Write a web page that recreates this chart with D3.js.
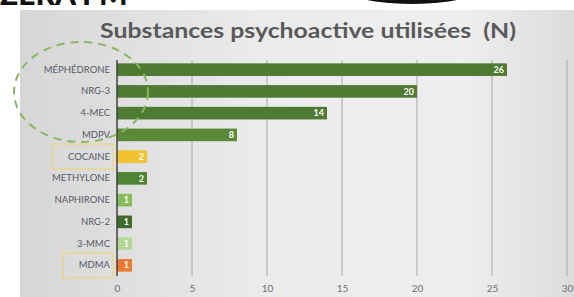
<!DOCTYPE html>
<meta charset="utf-8">
<html>
<head><title>Substances psychoactive</title>
<script src="https://cdn.jsdelivr.net/npm/d3@7"></script>
<style>
    body { margin: 0; background: #fff; }
    text { font-family: Lato, "Open Sans", sans-serif; }
</style>
</head>
<body>
<script>
// data
var substances = ["MÉPHÉDRONE", "NRG-3", "4-MEC", "MDPV", "COCAINE", "METHYLONE", "NAPHIRONE", "NRG-2", "3-MMC", "MDMA"];
var counts = [26, 20, 14, 8, 2, 2, 1, 1, 1, 1];
var barColors = ["#4f7a31", "#4f7a31", "#4f7a31", "#5a8a38", "#f2c12e", "#4e8532", "#86bd5a", "#3e6a2a", "#b3d795", "#ec7a30"];
var xTicks = [0, 5, 10, 15, 20, 25, 30];

var W = 574, H = 297;
var svg = d3.select("body").append("svg").attr("width", W).attr("height", H);

// grey slide panel with light gradient
var defs = svg.append("defs");
var grad = defs.append("linearGradient").attr("id", "bg").attr("x1", 0).attr("x2", 1);
grad.append("stop").attr("offset", "0").attr("stop-color", "#d6d6d6");
grad.append("stop").attr("offset", "0.45").attr("stop-color", "#ececec");
grad.append("stop").attr("offset", "0.8").attr("stop-color", "#eeeeee");
grad.append("stop").attr("offset", "1").attr("stop-color", "#dcdcdc");
svg.append("rect").attr("x", 20).attr("y", 10).attr("width", W - 20).attr("height", H - 10).attr("fill", "url(#bg)");

// bits of the slide above the chart (cut off by the photo)
svg.append("text").attr("x", 0).attr("y", 5).attr("font-size", 30).attr("font-weight", 900)
    .attr("fill", "#111").text("ZERA FM");
svg.append("ellipse").attr("cx", 412).attr("cy", -30).attr("rx", 96).attr("ry", 34).attr("fill", "#111");

svg.append("text").attr("x", 308).attr("y", 38).attr("text-anchor", "middle")
    .attr("font-size", 21).attr("font-weight", 700).attr("fill", "#595959")
    .attr("textLength", 416).attr("lengthAdjust", "spacingAndGlyphs")
    .text("Substances psychoactive utilisées\u00a0\u00a0(N)");

var x = d3.scaleLinear().domain([0, 30]).range([117, 567]);
var y = d3.scaleBand().domain(substances).range([59, 276]).paddingInner(0.42).paddingOuter(0.2);

// gridlines
svg.append("g").selectAll("line").data(xTicks.slice(1)).enter().append("line")
    .attr("x1", function(d) { return x(d); }).attr("x2", function(d) { return x(d); })
    .attr("y1", 60).attr("y2", 276)
    .attr("stroke", "#a8a8a8").attr("stroke-width", 1);

var xAxis = svg.append("g").attr("transform", "translate(0,281)")
    .call(d3.axisBottom(x).tickValues(xTicks).tickSize(0).tickPadding(4));
xAxis.select(".domain").remove();
xAxis.selectAll("text").attr("font-size", 10).attr("fill", "#6e6e6e")
    .style("font-family", "Lato, sans-serif");

svg.append("g").selectAll("rect").data(counts).enter().append("rect")
    .attr("x", x(0))
    .attr("y", function(d, i) { return y(substances[i]); })
    .attr("width", function(d) { return x(d) - x(0); })
    .attr("height", y.bandwidth())
    .attr("fill", function(d, i) { return barColors[i]; });

svg.append("g").selectAll("text").data(counts).enter().append("text")
    .attr("x", function(d) { return x(d) - 3; })
    .attr("y", function(d, i) { return y(substances[i]) + y.bandwidth() / 2; })
    .attr("dy", "0.35em").attr("text-anchor", "end")
    .attr("font-size", 9).attr("font-weight", 700).attr("fill", "#fff")
    .text(function(d) { return d; });

// y axis line and labels
svg.append("line").attr("x1", x(0)).attr("x2", x(0)).attr("y1", 60).attr("y2", 276)
    .attr("stroke", "#404040").attr("stroke-width", 1.5);
var yAxis = svg.append("g").attr("transform", "translate(" + x(0) + ",0)")
    .call(d3.axisLeft(y).tickSize(0).tickPadding(7));
yAxis.select(".domain").remove();
yAxis.selectAll("text").attr("font-size", 9.5).attr("fill", "#565966")
    .style("font-family", "Lato, sans-serif");

// annotations: dashed circle and dotted boxes
svg.append("ellipse").attr("cx", 81).attr("cy", 92).attr("rx", 67).attr("ry", 50)
    .attr("fill", "none").attr("stroke", "#86b860").attr("stroke-width", 2)
    .attr("stroke-dasharray", "8,6");
[["COCAINE", 53], ["MDMA", 63]].forEach(function(b) {
    svg.append("rect").attr("x", b[1]).attr("y", y(b[0]) - 6)
        .attr("width", 113 - b[1]).attr("height", y.bandwidth() + 12)
        .attr("fill", "none").attr("stroke", "#f5d36a").attr("stroke-width", 2)
        .attr("stroke-dasharray", "2,2");
});
</script>
</body>
</html>
